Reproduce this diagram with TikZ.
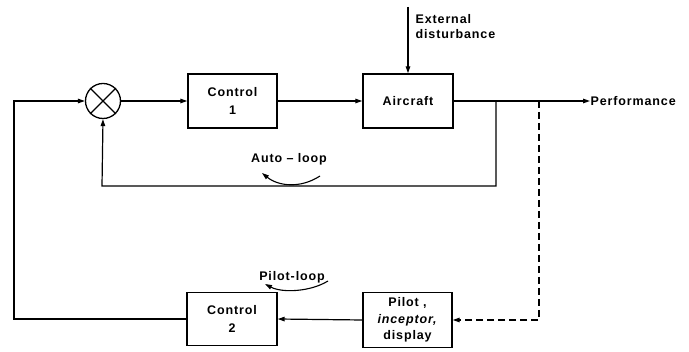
\documentclass[tikz,border=0pt]{standalone}
\usepackage{fontspec}
\newfontfamily\lbl{Liberation Sans}[LetterSpace=7]
\usetikzlibrary{arrows.meta}
\begin{document}
\begin{tikzpicture}[x=1pt,y=-1pt,
  line width=1.2pt,
  >={Triangle[length=7pt,width=4.5pt]},
  lab/.style={font={\lbl\bfseries\fontsize{12.5}{15}\selectfont}, inner sep=0pt},
  blk/.style={draw, line width=1.4pt, align=center, inner sep=0pt,
    font={\lbl\bfseries\fontsize{12.5}{18}\selectfont}},
  sumj/.style={draw, circle, line width=1.3pt, minimum size=35pt, inner sep=0pt}]
\useasboundingbox (0,0) rectangle (689,352);
% blocks
\node[sumj] (j) at (103,101) {};
\draw[line width=1.3pt] (j.north west) -- (j.south east) (j.north east) -- (j.south west);
\node[blk, minimum width=89pt, minimum height=54pt] (c1) at (232.5,101) {Control\\1};
\node[blk, minimum width=90pt, minimum height=54pt] (ac) at (408,101) {Aircraft};
\node[blk, minimum width=90pt, minimum height=53pt] (c2) at (232,319) {Control\\2};
\node[blk, minimum width=89pt, minimum height=55pt,
  font={\lbl\bfseries\fontsize{12.5}{16.5}\selectfont}] (pl) at (407.5,320) {Pilot ,\\\textit{inceptor,}\\display};
% labels
\node[lab, anchor=west] (perf) at (590,101) {Performance};
\node[lab, anchor=north west, align=left] (ext) at (415,14) {External\\disturbance};
\node[lab] (auto) at (289,159) {Auto \textendash\ loop};
\node[lab] (pil) at (292,277) {Pilot-loop};
% coordinates
\coordinate (dtop) at (408,7);
\coordinate (b1) at (496,101);
\coordinate (b2) at (539,101);
\coordinate (fb) at (102,186);
\coordinate (ol) at (14,319);
\coordinate (a1) at (320,176);
\coordinate (a2) at (262,173);
\coordinate (p1) at (328,281);
\coordinate (p2) at (265,284);
% connectors
\draw[->] (j.east) -- (c1.west);
\draw[->] (c1.east) -- (ac.west);
\draw[->] (ac.east) -- (perf.west);
\draw[->] (dtop) -- (ac.north);
\draw[->] (b1) |- (fb) -- (j.south);
\draw[->, dashed, dash pattern=on 7pt off 4pt] (b2) |- (pl.east);
\draw[->] (pl.west) -- (c2.east);
\draw[->] (c2.west) -- (ol) |- (j.west);
% loop arrows
\draw[->, line width=1.1pt] (a1) .. controls (300,189) and (278,186) .. (a2);
\draw[->, line width=1.1pt] (p1) .. controls (310,292) and (282,293) .. (p2);
\end{tikzpicture}
\end{document}
